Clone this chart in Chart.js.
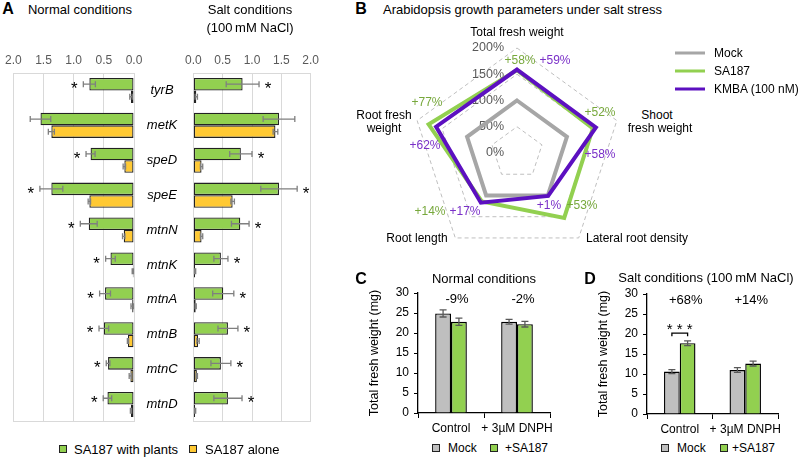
<!DOCTYPE html>
<html>
<head>
<meta charset="utf-8">
<script src="https://cdn.jsdelivr.net/npm/chart.js@4"></script>
<style>
body { margin: 0; background: #fff; font-family: 'Liberation Sans', Arial, sans-serif; }
#wrap { position: relative; width: 800px; height: 457px; overflow: hidden; }
canvas { position: absolute; }
.t { position: absolute; white-space: nowrap; transform: translate(-50%, -50%); font-size: 13px; color: #000; line-height: 1; }
.l { position: absolute; white-space: nowrap; transform: translateY(-50%); font-size: 13px; color: #000; line-height: 1; }
.b { font-weight: bold; font-size: 16px; }
.s { font-size: 12px; }
.sq { position: absolute; width: 6px; height: 6px; border: 1.3px solid #222; transform: translate(-50%, -50%); }
.ln { position: absolute; height: 3px; width: 30px; transform: translateY(-50%); }
</style>
</head>
<body>
<div id="wrap">
  <canvas id="aNormal" width="190" height="377" style="left:0;top:45px"></canvas>
  <canvas id="aSalt" width="144" height="377" style="left:180px;top:45px"></canvas>
  <canvas id="bRadar" width="230" height="230" style="left:402px;top:38px"></canvas>
  <canvas id="cBars" width="197" height="158" style="left:363px;top:280px"></canvas>
  <canvas id="dBars" width="196" height="158" style="left:592px;top:281px"></canvas>

  <!-- panel A text -->
  <div class="t b" style="left:8px;top:9px">A</div>
  <div class="t" style="left:80px;top:9px">Normal conditions</div>
  <div class="t" style="left:250px;top:9px">Salt conditions</div>
  <div class="t" style="left:250px;top:27px">(100&thinsp;mM NaCl)</div>
  <div class="sq" style="left:63px;top:449px;background:#92d050"></div>
  <div class="l" style="left:74px;top:449px">SA187 with plants</div>
  <div class="sq" style="left:193px;top:449px;background:#ffc933"></div>
  <div class="l" style="left:205px;top:449px">SA187 alone</div>

  <!-- panel B text -->
  <div class="t b" style="left:361px;top:9px">B</div>
  <div class="l" style="left:383px;top:9px">Arabidopsis growth parameters under salt stress</div>
  <div class="t s" style="left:517px;top:32px">Total fresh weight</div>
  <div class="t s" style="left:657px;top:115px">Shoot</div>
  <div class="t s" style="left:660px;top:128px">fresh weight</div>
  <div class="t s" style="left:637px;top:238px">Lateral root density</div>
  <div class="t s" style="left:417px;top:238px">Root  length</div>
  <div class="t s" style="left:384px;top:115px">Root fresh</div>
  <div class="t s" style="left:384px;top:128px">weight</div>
  <div class="ln" style="left:675px;top:53px;background:#a6a6a6"></div>
  <div class="l s" style="left:714px;top:53px">Mock</div>
  <div class="ln" style="left:675px;top:71px;background:#92d050"></div>
  <div class="l s" style="left:714px;top:71px">SA187</div>
  <div class="ln" style="left:675px;top:89px;background:#5c10c0"></div>
  <div class="l s" style="left:714px;top:89px">KMBA (100 nM)</div>

  <!-- panel C / D text -->
  <div class="t b" style="left:361px;top:279px">C</div>
  <div class="t" style="left:484px;top:278px">Normal conditions</div>
  <div class="sq" style="left:436px;top:448px;background:#bfbfbf"></div>
  <div class="l s" style="left:448px;top:448px">Mock</div>
  <div class="sq" style="left:494px;top:448px;background:#92d050"></div>
  <div class="l s" style="left:505px;top:448px">+SA187</div>

  <div class="t b" style="left:590px;top:279px">D</div>
  <div class="t" style="left:706px;top:277px">Salt conditions (100&thinsp;mM NaCl)</div>
  <div class="sq" style="left:665px;top:448px;background:#bfbfbf"></div>
  <div class="l s" style="left:677px;top:448px">Mock</div>
  <div class="sq" style="left:724px;top:448px;background:#92d050"></div>
  <div class="l s" style="left:732px;top:448px">+SA187</div>
</div>

<script>
// ---- panel A: relative expression ----
const genes = ['tyrB', 'metK', 'speD', 'speE', 'mtnN', 'mtnK', 'mtnA', 'mtnB', 'mtnC', 'mtnD'];
const normalWithPlants = [0.74, 1.55, 0.72, 1.37, 0.75, 0.39, 0.48, 0.50, 0.43, 0.44];
const normalWithPlantsErr = [0.10, 0.17, 0.075, 0.19, 0.14, 0.08, 0.09, 0.08, 0.03, 0.07];
const normalAlone = [0.05, 1.37, 0.16, 0.74, 0.17, 0.02, 0.03, 0.10, 0.06, 0.05];
const normalAloneErr = [0.02, 0.05, 0.02, 0.02, 0.02, 0.01, 0.02, 0.01, 0.02, 0.01];
const saltWithPlants = [0.84, 1.46, 0.81, 1.46, 0.80, 0.47, 0.51, 0.59, 0.47, 0.59];
const saltWithPlantsErr = [0.28, 0.27, 0.19, 0.31, 0.15, 0.12, 0.18, 0.17, 0.17, 0.24];
const saltAlone = [0.05, 1.40, 0.14, 0.67, 0.14, 0.03, 0.04, 0.08, 0.06, 0.03];
const saltAloneErr = [0.02, 0.04, 0.02, 0.03, 0.02, 0.01, 0.01, 0.02, 0.01, 0.01];
const starred = [true, false, true, true, true, true, true, true, true, true];

// ---- panel B: radar ----
const radarAxes = ['Total fresh weight', 'Shoot fresh weight', 'Lateral root density', 'Root length', 'Root fresh weight'];
const mockPct = [100, 100, 100, 100, 100];
const sa187Pct = [158, 152, 153, 114, 177];
const kmbaPct = [159, 158, 101, 117, 162];
const radarTicks = [0, 50, 100, 150, 200];
const sa187Notes = ['+58%', '+52%', '+53%', '+14%', '+77%'];
const kmbaNotes = ['+59%', '+58%', '+1%', '+17%', '+62%'];
// label offsets from radar centre (px)
const sa187NotePos = [[3, -92], [83, -40], [65, 53], [-87, 59], [-90, -50]];
const kmbaNotePos = [[38, -92], [83, 2], [32, 53], [-52, 59], [-92, -7]];

// ---- panels C / D: fresh weight ----
const treatments = ['Control', '+ 3µM DNPH'];
const normalMock = [24.9, 22.8];
const normalMockErr = [0.9, 0.6];
const normalSA187 = [22.8, 22.2];
const normalSA187Err = [0.9, 0.7];
const normalChange = ['-9%', '-2%'];
const saltMock = [10.6, 11.0];
const saltMockErr = [0.5, 0.6];
const saltSA187 = [17.7, 12.6];
const saltSA187Err = [0.6, 0.6];
const saltChange = ['+68%', '+14%'];

const GREEN = '#92d050';
const YELLOW = '#ffc933';
const GREY = '#bfbfbf';
const PURPLE = '#5c10c0';
const FONT = "'Liberation Sans', Arial, sans-serif";

Chart.defaults.font.family = FONT;
Chart.defaults.color = '#000';

const errorBars = {
    id: 'errorBars',
    afterDatasetsDraw(chart, args, opts) {
        const ctx = chart.ctx;
        const horiz = chart.options.indexAxis === 'y';
        const vScale = horiz ? chart.scales.x : chart.scales.y;
        chart.data.datasets.forEach((ds, di) => {
            if (!ds.errors) return;
            const meta = chart.getDatasetMeta(di);
            meta.data.forEach((bar, i) => {
                const lo = vScale.getPixelForValue(ds.data[i] - ds.errors[i]);
                const hi = vScale.getPixelForValue(ds.data[i] + ds.errors[i]);
                const c = horiz ? bar.y : bar.x;
                const cap = opts.cap || 3;
                ctx.save();
                ctx.strokeStyle = opts.color || '#7f7f7f';
                ctx.lineWidth = 1.3;
                ctx.beginPath();
                if (horiz) {
                    ctx.moveTo(lo, c); ctx.lineTo(hi, c);
                    ctx.moveTo(lo, c - cap); ctx.lineTo(lo, c + cap);
                    ctx.moveTo(hi, c - cap); ctx.lineTo(hi, c + cap);
                } else {
                    ctx.moveTo(c, lo); ctx.lineTo(c, hi);
                    ctx.moveTo(c - cap, lo); ctx.lineTo(c + cap, lo);
                    ctx.moveTo(c - cap, hi); ctx.lineTo(c + cap, hi);
                }
                ctx.stroke();
                if (ds.stars && ds.stars[i]) {
                    ctx.fillStyle = '#000';
                    ctx.font = '17px ' + FONT;
                    ctx.textAlign = 'center';
                    ctx.textBaseline = 'alphabetic';
                    const sx = opts.starSide === 'left' ? Math.min(lo, hi) - 9 : Math.max(lo, hi) + 9;
                    ctx.fillText('*', sx, c + 10);
                }
                ctx.restore();
            });
        });
    }
};

// light frame lines + gene names between the two panels
const frame = {
    id: 'frame',
    beforeDatasetsDraw(chart, args, opts) {
        const { ctx, chartArea: a } = chart;
        ctx.save();
        ctx.strokeStyle = '#d9d9d9';
        ctx.lineWidth = 1;
        ctx.beginPath();
        ctx.moveTo(a.left, a.top + 0.5); ctx.lineTo(a.right, a.top + 0.5);
        ctx.moveTo(a.left, a.bottom - 0.5); ctx.lineTo(a.right, a.bottom - 0.5);
        ctx.stroke();
        if (opts.names) {
            const y = chart.scales.y;
            ctx.font = 'italic 13px ' + FONT;
            ctx.fillStyle = '#000';
            ctx.textAlign = 'center';
            ctx.textBaseline = 'middle';
            genes.forEach((g, i) => ctx.fillText(g, a.right + 28, y.getPixelForValue(i)));
        }
        ctx.restore();
    }
};

function expressionChart(id, plants, plantsErr, alone, aloneErr, reverse) {
    return new Chart(document.getElementById(id), {
        type: 'bar',
        data: {
            labels: genes,
            datasets: [
                { data: plants, errors: plantsErr, stars: starred, backgroundColor: GREEN, borderColor: '#222', borderWidth: 1.3, borderSkipped: false },
                { data: alone, errors: aloneErr, backgroundColor: YELLOW, borderColor: '#222', borderWidth: 1.3, borderSkipped: false }
            ]
        },
        options: {
            indexAxis: 'y',
            responsive: false,
            animation: false,
            layout: { padding: { left: 10, right: reverse ? 56 : 10, top: 0, bottom: 0 } },
            datasets: { bar: { categoryPercentage: 0.72, barPercentage: 1 } },
            plugins: {
                legend: { display: false },
                tooltip: { enabled: false },
                frame: { names: reverse },
                errorBars: { starSide: reverse ? 'left' : 'right', cap: 3, color: '#7f7f7f' }
            },
            scales: {
                x: {
                    position: 'top',
                    reverse: reverse,
                    min: 0,
                    max: 2,
                    ticks: { stepSize: 0.5, color: '#595959', font: { size: 12 }, padding: 5, callback: v => Number(v).toFixed(1) },
                    grid: { color: '#d9d9d9', drawTicks: false },
                    border: { display: false },
                    afterFit(s) { s.height = 28; }
                },
                y: { display: false }
            }
        },
        plugins: [frame, errorBars]
    });
}

expressionChart('aNormal', normalWithPlants, normalWithPlantsErr, normalAlone, normalAloneErr, true);
expressionChart('aSalt', saltWithPlants, saltWithPlantsErr, saltAlone, saltAloneErr, false);

// radar tick labels and percentage notes
const radarText = {
    id: 'radarText',
    beforeDatasetsDraw(chart) {
        const { ctx } = chart;
        const r = chart.scales.r;
        ctx.save();
        ctx.font = '12.5px ' + FONT;
        ctx.fillStyle = '#595959';
        ctx.textAlign = 'right';
        ctx.textBaseline = 'middle';
        radarTicks.forEach(v => {
            ctx.fillText(v + '%', r.xCenter - 13, r.yCenter - r.getDistanceFromCenterForValue(v));
        });
        ctx.restore();
    },
    afterDatasetsDraw(chart) {
        const { ctx } = chart;
        const r = chart.scales.r;
        ctx.save();
        ctx.font = '12px ' + FONT;
        ctx.textAlign = 'center';
        ctx.textBaseline = 'middle';
        sa187Notes.forEach((s, i) => {
            ctx.fillStyle = '#77a83c';
            ctx.fillText(s, r.xCenter + sa187NotePos[i][0], r.yCenter + sa187NotePos[i][1]);
        });
        kmbaNotes.forEach((s, i) => {
            ctx.fillStyle = '#7a30c8';
            ctx.fillText(s, r.xCenter + kmbaNotePos[i][0], r.yCenter + kmbaNotePos[i][1]);
        });
        ctx.restore();
    }
};

new Chart(document.getElementById('bRadar'), {
    type: 'radar',
    data: {
        labels: radarAxes,
        datasets: [
            { label: 'KMBA (100 nM)', data: kmbaPct, borderColor: PURPLE, order: 0 },
            { label: 'SA187', data: sa187Pct, borderColor: GREEN, order: 1 },
            { label: 'Mock', data: mockPct, borderColor: '#a6a6a6', order: 2 }
        ]
    },
    options: {
        responsive: false,
        animation: false,
        layout: { padding: 10 },
        elements: {
            line: { borderWidth: 4, fill: false, borderJoinStyle: 'miter', tension: 0 },
            point: { radius: 0 }
        },
        plugins: { legend: { display: false }, tooltip: { enabled: false } },
        scales: {
            r: {
                min: 0,
                max: 200,
                ticks: { stepSize: 50, display: false },
                pointLabels: { display: false },
                angleLines: { display: false },
                grid: { color: '#bfbfbf', lineWidth: 1 },
                border: { dash: [4, 3] }
            }
        }
    },
    plugins: [radarText]
});

const barNotes = {
    id: 'barNotes',
    afterDatasetsDraw(chart, args, opts) {
        const { ctx, scales: { x, y } } = chart;
        ctx.save();
        ctx.font = '13px ' + FONT;
        ctx.fillStyle = '#000';
        ctx.textAlign = 'center';
        ctx.textBaseline = 'middle';
        opts.labels.forEach((s, i) => ctx.fillText(s, x.getPixelForValue(i) + 6, y.getPixelForValue(opts.value)));
        if (opts.sig) {
            const a = chart.getDatasetMeta(0).data[opts.sig.index];
            const b = chart.getDatasetMeta(1).data[opts.sig.index];
            const yb = y.getPixelForValue(opts.sig.value);
            ctx.strokeStyle = '#000';
            ctx.lineWidth = 1.3;
            ctx.beginPath();
            ctx.moveTo(a.x, yb + 3); ctx.lineTo(a.x, yb); ctx.lineTo(b.x, yb); ctx.lineTo(b.x, yb + 3);
            ctx.stroke();
            ctx.font = '15px ' + FONT;
            ctx.textBaseline = 'alphabetic';
            ctx.fillText(opts.sig.text, (a.x + b.x) / 2, yb + 1);
        }
        ctx.restore();
    }
};

function weightChart(id, mock, mockErr, sa, saErr, notes, sig) {
    return new Chart(document.getElementById(id), {
        type: 'bar',
        data: {
            labels: treatments,
            datasets: [
                { label: 'Mock', data: mock, errors: mockErr, backgroundColor: GREY, borderColor: '#000', borderWidth: 1.4, borderSkipped: 'bottom' },
                { label: '+SA187', data: sa, errors: saErr, backgroundColor: GREEN, borderColor: '#000', borderWidth: 1.4, borderSkipped: 'bottom' }
            ]
        },
        options: {
            responsive: false,
            animation: false,
            layout: { padding: { top: 13, right: 10, left: 0, bottom: 0 } },
            datasets: { bar: { categoryPercentage: 0.48, barPercentage: 1 } },
            plugins: {
                legend: { display: false },
                tooltip: { enabled: false },
                errorBars: { cap: 3.5, color: '#595959' },
                barNotes: { labels: notes, value: 28.4, sig: sig }
            },
            scales: {
                x: {
                    grid: { offset: true, drawOnChartArea: false, color: '#000', tickLength: 5 },
                    border: { color: '#000', width: 1.3 },
                    ticks: { font: { size: 12 }, color: '#000', padding: 3, maxRotation: 0, autoSkip: false },
                    afterFit(s) { s.height = 25; }
                },
                y: {
                    min: 0,
                    max: 30,
                    ticks: { stepSize: 5, font: { size: 12 }, color: '#000', padding: 5 },
                    grid: { drawOnChartArea: false, color: '#000', tickLength: 4 },
                    border: { color: '#000', width: 1.3 },
                    title: { display: true, text: 'Total fresh weight (mg)', font: { size: 12.5 }, color: '#000', padding: { top: 4, bottom: 0 } },
                    afterFit(s) { s.width = 55; }
                }
            }
        },
        plugins: [errorBars, barNotes]
    });
}

weightChart('cBars', normalMock, normalMockErr, normalSA187, normalSA187Err, normalChange, null);
weightChart('dBars', saltMock, saltMockErr, saltSA187, saltSA187Err, saltChange, { index: 0, value: 20.2, text: '* * *' });
</script>
</body>
</html>
